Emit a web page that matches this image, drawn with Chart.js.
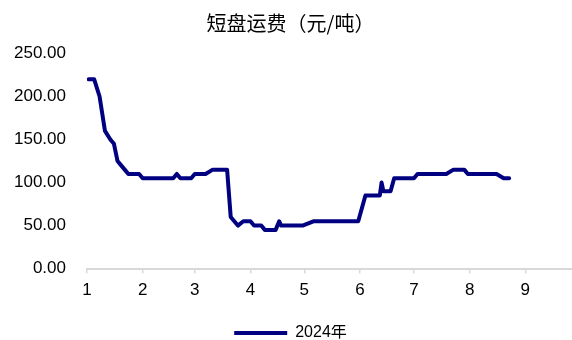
<!DOCTYPE html>
<html>
<head>
<meta charset="utf-8">
<script src="https://cdn.jsdelivr.net/npm/chart.js@4"></script>
<style>
  body { margin: 0; background: #fff; }
</style>
</head>
<body>
<canvas id="freightChart" width="572" height="340"></canvas>
<script>
// short-haul freight, 2024 (yuan/ton)
const dates = [
  '2024-01-02', '2024-01-05', '2024-01-08', '2024-01-11', '2024-01-14', '2024-01-16',
  '2024-01-18', '2024-01-20', '2024-01-22', '2024-01-24', '2024-01-30', '2024-02-01',
  '2024-02-18', '2024-02-20', '2024-02-22', '2024-02-28', '2024-03-01', '2024-03-07',
  '2024-03-11', '2024-03-19', '2024-03-21', '2024-03-25', '2024-03-28', '2024-04-01',
  '2024-04-03', '2024-04-07', '2024-04-09', '2024-04-15', '2024-04-17', '2024-04-18',
  '2024-04-30', '2024-05-06', '2024-05-31', '2024-06-04', '2024-06-12', '2024-06-13',
  '2024-06-14', '2024-06-18', '2024-06-20', '2024-07-01', '2024-07-03', '2024-07-19',
  '2024-07-23', '2024-07-29', '2024-07-31', '2024-08-16', '2024-08-20', '2024-08-23'
];
const freight = [
  220, 220, 200, 160, 150, 145,
  125, 120, 115, 110, 110, 105,
  105, 110, 105, 105, 110, 110,
  115, 115, 60, 50, 55, 55,
  50, 50, 45, 45, 55, 50,
  50, 55, 55, 85, 85, 100,
  90, 90, 105, 105, 110, 110,
  115, 115, 110, 110, 105, 105
];
const monthLabels = ['1', '2', '3', '4', '5', '6', '7', '8', '9'];
const seriesName = '2024年';

// day of year, 0 = Jan 1
function dayOfYear(str) {
  const [y, m, d] = str.split('-').map(Number);
  return (Date.UTC(y, m - 1, d) - Date.UTC(y, 0, 1)) / 86400000;
}
const monthStarts = monthLabels.map(m => (Date.UTC(2024, Number(m) - 1, 1) - Date.UTC(2024, 0, 1)) / 86400000);
const points = dates.map((d, i) => ({ x: dayOfYear(d), y: freight[i] }));

const tickFont = { family: "'Liberation Sans', Arial, sans-serif", size: 17 };

const ctx = document.getElementById('freightChart').getContext('2d');
new Chart(ctx, {
  type: 'line',
  data: {
    datasets: [{
      label: seriesName,
      data: points,
      borderColor: '#000080',
      backgroundColor: '#000080',
      borderWidth: 4,
      pointRadius: 0,
      tension: 0,
      borderJoinStyle: 'round',
      borderCapStyle: 'round',
      fill: false
    }]
  },
  options: {
    responsive: false,
    animation: false,
    devicePixelRatio: 1,
    // legend keeps 10px spare below itself, pull it down to the edge
    layout: { padding: { left: 9, right: 0, top: 0, bottom: -11 } },
    plugins: {
      title: {
        display: true,
        text: '短盘运费（元/吨）',
        color: '#000',
        font: { family: "'Noto Sans CJK SC', sans-serif", size: 20, weight: 'normal' },
        padding: { top: 11, bottom: 18.5 }
      },
      legend: {
        position: 'bottom',
        labels: {
          usePointStyle: true,
          pointStyle: 'line',
          pointStyleWidth: 53,
          color: '#000',
          font: { family: "'Liberation Sans', 'Noto Sans CJK SC', sans-serif", size: 16 },
          padding: 0
        }
      },
      tooltip: { enabled: false }
    },
    scales: {
      x: {
        type: 'linear',
        min: 0,
        max: 270,
        afterBuildTicks: axis => {
          axis.ticks = monthStarts.map(v => ({ value: v }));
        },
        afterFit: axis => { axis.height += 17; },
        ticks: {
          color: '#000',
          font: tickFont,
          padding: 7,
          maxRotation: 0,
          callback: (value, index) => monthLabels[index]
        },
        grid: {
          display: true,
          drawOnChartArea: false,
          drawTicks: true,
          tickLength: 5,
          color: '#d9d9d9',
          lineWidth: 1.5
        },
        border: { display: true, color: '#d9d9d9', width: 2 }
      },
      y: {
        min: 0,
        max: 250,
        afterFit: axis => { axis.width = 78; },
        ticks: {
          stepSize: 50,
          color: '#000',
          font: tickFont,
          padding: 21,
          callback: v => v.toFixed(2)
        },
        grid: { display: false, drawTicks: false },
        border: { display: false }
      }
    }
  }
});
</script>
</body>
</html>
